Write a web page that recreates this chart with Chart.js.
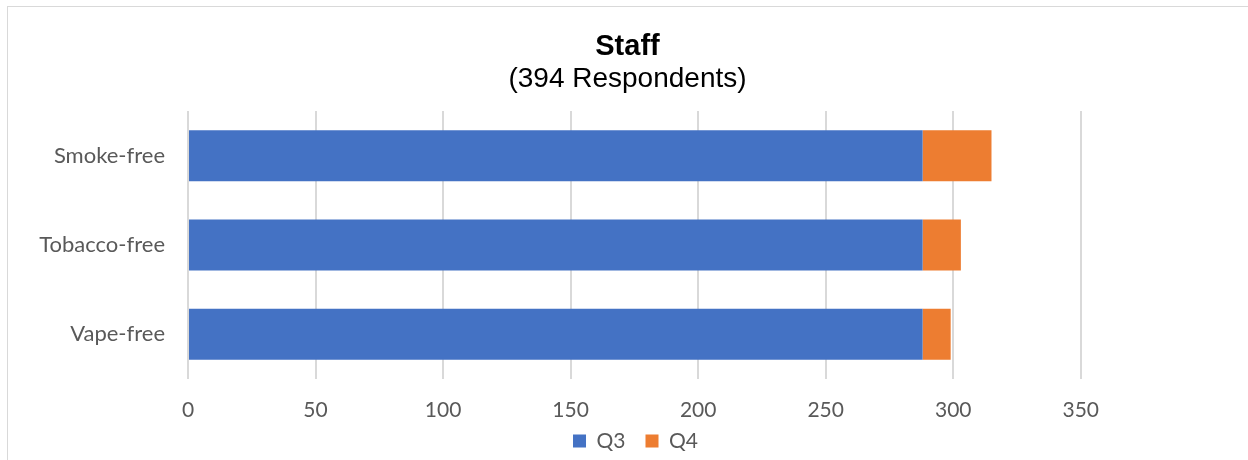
<!DOCTYPE html>
<html>
<head>
<meta charset="utf-8">
<script src="https://cdn.jsdelivr.net/npm/chart.js@4"></script>
<style>
  html, body { margin: 0; padding: 0; background: #ffffff; width: 1248px; height: 460px; overflow: hidden; }
  #frame { position: absolute; left: 7px; top: 6px; width: 1400px; height: 600px; border-top: 1px solid #d9d9d9; border-left: 1px solid #d9d9d9; box-sizing: border-box; }
  #wrap { position: absolute; left: 7px; top: 0px; width: 1241px; height: 480px; }
</style>
</head>
<body>
<div id="frame"></div>
<div id="wrap"><canvas id="c"></canvas></div>
<script>
const categories = ['Smoke-free', 'Tobacco-free', 'Vape-free'];
const seriesNames = ['Q3', 'Q4'];
const q3Values = [288, 288, 288];
const q4Values = [27, 15, 11];
const xTickStep = 50;
const xMax = 394;
const chartTitle = 'Staff';
const chartSubtitle = '(394 Respondents)';

const tickFont = { family: 'Lato', size: 21 };
const catFont = { family: 'Lato', size: 22 };

// Move the legend up into the space under the tick labels, and nudge it right
const legendShift = {
  id: 'legendShift',
  afterLayout(chart) {
    const lg = chart.legend;
    if (!lg) return;
    const h = lg.height;
    lg.top = 410.5; lg.bottom = lg.top + h;
    lg.left += 8; lg.right += 8;
  }
};

new Chart(document.getElementById('c'), {
  type: 'bar',
  data: {
    labels: categories,
    datasets: [
      { label: seriesNames[0], data: q3Values, backgroundColor: '#4472C4', borderWidth: 0,
        categoryPercentage: 1, barPercentage: 0.571 },
      { label: seriesNames[1], data: q4Values, backgroundColor: '#ED7D31', borderWidth: 0,
        categoryPercentage: 1, barPercentage: 0.571 }
    ]
  },
  plugins: [legendShift],
  options: {
    indexAxis: 'y',
    responsive: true,
    maintainAspectRatio: false,
    animation: false,
    layout: { padding: 0 },
    plugins: {
      title: {
        display: true, text: chartTitle, color: '#000000',
        font: { family: 'Liberation Sans', size: 29, weight: 'bold', lineHeight: 1.2 },
        padding: { top: 30, bottom: 0 }
      },
      subtitle: {
        display: true, text: chartSubtitle, color: '#000000',
        font: { family: 'Liberation Sans', size: 28, weight: 'normal', lineHeight: 1.2 },
        padding: { top: -2, bottom: 14.6 }
      },
      legend: {
        display: true, position: 'bottom',
        labels: { boxWidth: 13, boxHeight: 13, padding: 20, color: '#595959', font: tickFont }
      },
      tooltip: { enabled: false }
    },
    scales: {
      x: {
        type: 'linear', stacked: true, min: 0, max: xMax,
        ticks: { stepSize: xTickStep, color: '#595959', font: tickFont, padding: 19 },
        grid: { display: true, color: '#d9d9d9', lineWidth: 2, drawTicks: false },
        border: { display: false },
        afterBuildTicks: s => { s.ticks = s.ticks.filter(t => t.value % xTickStep === 0); },
        afterFit: s => { s.height = 50; }
      },
      y: {
        type: 'category', stacked: true,
        ticks: { color: '#595959', font: catFont, padding: 23 },
        grid: { display: false, drawTicks: false },
        border: { display: false },
        afterFit: s => { s.width = 181; }
      },
      yRight: {
        type: 'linear', position: 'right', display: true,
        ticks: { display: false },
        grid: { display: false, drawTicks: false },
        border: { display: false },
        afterFit: s => { s.width = 55; }
      }
    }
  }
});
</script>
</body>
</html>
